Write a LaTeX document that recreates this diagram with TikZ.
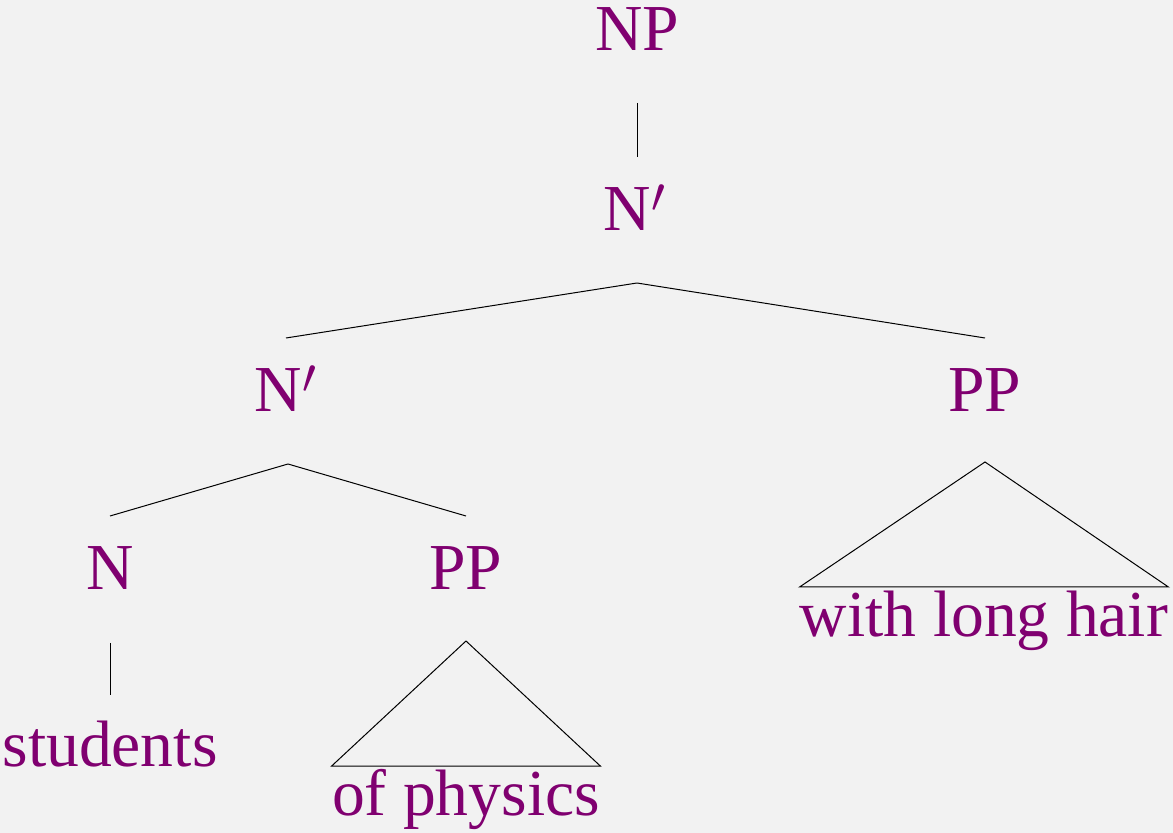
\documentclass[tikz,border=0pt]{standalone}
\usepackage{fontspec}
\setmainfont{Liberation Serif}
\usetikzlibrary{calc}
\definecolor{treebg}{RGB}{242,242,242}
\definecolor{catpurple}{RGB}{128,0,112}
\tikzset{
  cat/.style={
    anchor=base,
    inner sep=0pt,
    text=catpurple,
    font=\fontsize{32.8}{39}\selectfont
  },
  branch/.style={draw=black, line width=0.5pt, line join=miter}
}

\begin{document}
\begin{tikzpicture}[x=0.5pt,y=-0.5pt]
  \fill[treebg] (0,0) rectangle (1173,833);
  \useasboundingbox (0,0) rectangle (1173,833);

  \node[cat] (np) at (637,51) {NP};
  \node[cat] (nbar) at (635,231) {N$'$};
  \node[cat] (nbarl) at (286,412) {N$'$};
  \node[cat] (ppr) at (985,412) {PP};
  \node[cat] (n) at (110,590) {N};
  \node[cat] (ppm) at (466,590) {PP};
  \node[cat] (students) at (110,767) {students};
  \node[cat] (physics) at (466,815) {of physics};
  \node[cat] (hair) at (984,637) {with long hair};

  % branches
  \draw[branch] ($(np.base)+(0,52)$) -- ($(np.base |- nbar.base)+(0,-74)$);
  \foreach \a/\b in {nbar/nbarl,nbar/ppr,nbarl/n,nbarl/ppm}
    \draw[branch] ($(\a.base)+(2,52)$) -- ($(\b.base)+(0,-74)$);
  \draw[branch] ($(n.base)+(0,53)$) -- ($(students.base)+(0,-72)$);

  % roofs
  \draw[branch] ($(ppr.base)+(0,50)$) -- ($(hair.base west)+(0,-50)$)
    -- ($(hair.base east)+(0,-50)$) -- cycle;
  \draw[branch] ($(ppm.base)+(0,51)$) -- ($(physics.base west)+(0,-49)$)
    -- ($(physics.base east)+(0,-49)$) -- cycle;
\end{tikzpicture}
\end{document}
